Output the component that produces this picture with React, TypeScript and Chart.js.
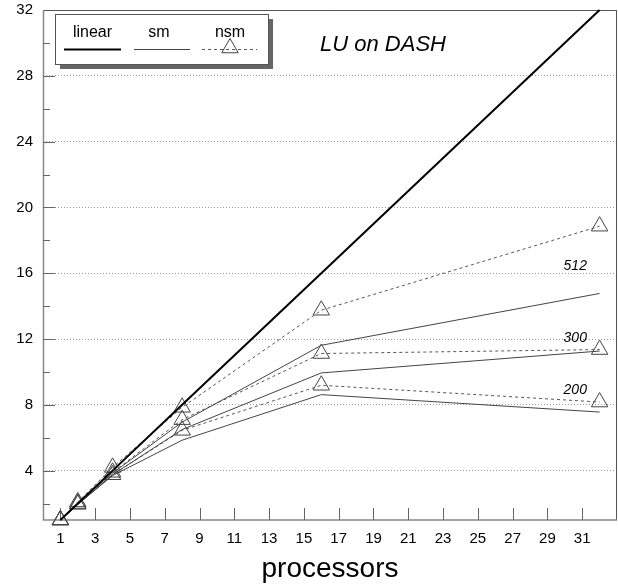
import React, { useEffect, useRef } from "react";
import { Chart, registerables } from "chart.js";

Chart.register(...registerables);

const processors = [1, 2, 4, 8, 16, 32];
const linearSpeedup = [1, 2, 4, 8, 16, 32];
const sm512 = [1, 2.0, 3.85, 6.95, 11.62, 14.77];
const nsm512 = [1, 2.1, 4.2, 7.85, 13.75, 18.86];
const sm300 = [1, 1.95, 3.75, 6.5, 9.94, 11.27];
const nsm300 = [1, 2.0, 3.9, 7.1, 11.12, 11.36];
const sm200 = [1, 1.95, 3.7, 5.85, 8.62, 7.56];
const nsm200 = [1, 1.95, 3.75, 6.45, 9.19, 8.17];

const xTickValues = [1, 3, 5, 7, 9, 11, 13, 15, 17, 19, 21, 23, 25, 27, 29, 31];
const yTickValues = [4, 8, 12, 16, 20, 24, 28, 32];
const yMinorTickValues = [2, 6, 10, 14, 18, 22, 26, 30];

const sizeLabels = ["512", "300", "200"];
const sizeLabelX = 30.6;
const sizeLabelY = [16.2, 11.82, 8.68];

const FONT = '"Liberation Sans", Arial, Helvetica, sans-serif';
const TRI_R = 9.5;

const pts = (ys: number[]) => processors.map((x, i) => ({ x, y: ys[i] }));

const smStyle = {
  borderColor: "#444",
  borderWidth: 1,
  pointRadius: 0,
  pointHoverRadius: 0,
  fill: false,
  clip: false as any,
};
const nsmStyle = {
  borderColor: "#555",
  borderWidth: 1,
  borderDash: [3, 3],
  pointStyle: "triangle" as any,
  pointRadius: TRI_R,
  pointBorderColor: "#444",
  pointBorderWidth: 1,
  pointBackgroundColor: "rgba(0,0,0,0)",
  fill: false,
  clip: false as any,
};

const decorPlugin = {
  id: "decor",
  beforeDatasetsDraw(chart: any) {
    const { ctx, chartArea, scales } = chart;
    const xs = scales.x;
    const ys = scales.y;
    ctx.save();
    ctx.strokeStyle = "#555";
    ctx.lineWidth = 1;
    ctx.beginPath();
    ctx.moveTo(chartArea.left, chartArea.top + 0.5);
    ctx.lineTo(chartArea.right - 0.5, chartArea.top + 0.5);
    ctx.lineTo(chartArea.right - 0.5, chartArea.bottom);
    ctx.stroke();
    ctx.strokeStyle = "#888";
    ctx.lineWidth = 1.5;
    ctx.beginPath();
    ctx.moveTo(chartArea.left + 0.5, chartArea.top);
    ctx.lineTo(chartArea.left + 0.5, chartArea.bottom);
    ctx.lineTo(chartArea.right, chartArea.bottom);
    ctx.stroke();
    ctx.lineWidth = 1;
    ctx.strokeStyle = "#666";
    ctx.beginPath();
    xTickValues.forEach((v) => {
      const px = Math.round(xs.getPixelForValue(v)) + 0.5;
      ctx.moveTo(px, chartArea.bottom);
      ctx.lineTo(px, chartArea.bottom - 12);
    });
    yTickValues.forEach((v) => {
      if (v >= 32) return;
      const py = Math.round(ys.getPixelForValue(v)) + 0.5;
      ctx.moveTo(chartArea.left, py);
      ctx.lineTo(chartArea.left + 12, py);
    });
    yMinorTickValues.forEach((v) => {
      const py = Math.round(ys.getPixelForValue(v)) + 0.5;
      ctx.moveTo(chartArea.left, py);
      ctx.lineTo(chartArea.left + 7, py);
    });
    ctx.stroke();
    ctx.restore();
  },
  afterDraw(chart: any) {
    const { ctx, chartArea, scales } = chart;
    const xs = scales.x;
    const ys = scales.y;
    ctx.save();
    ctx.fillStyle = "#000";
    ctx.font = `italic 22px ${FONT}`;
    ctx.textAlign = "left";
    ctx.textBaseline = "alphabetic";
    ctx.fillText("LU on DASH", 320, 51);
    ctx.font = `italic 14px ${FONT}`;
    ctx.textAlign = "center";
    sizeLabels.forEach((t, i) => {
      ctx.fillText(t, xs.getPixelForValue(sizeLabelX), ys.getPixelForValue(sizeLabelY[i]));
    });
    ctx.font = `28px ${FONT}`;
    ctx.textAlign = "center";
    ctx.fillText("processors", (chartArea.left + chartArea.right) / 2, 577);
    const lx = 55, ly = 14, lw = 213, lh = 50;
    ctx.fillStyle = "#666";
    ctx.fillRect(lx + 5, ly + 5, lw, lh);
    ctx.fillStyle = "#fff";
    ctx.fillRect(lx, ly, lw, lh);
    ctx.strokeStyle = "#555";
    ctx.lineWidth = 1;
    ctx.strokeRect(lx + 0.5, ly + 0.5, lw, lh);
    ctx.fillStyle = "#000";
    ctx.font = `16px ${FONT}`;
    ctx.textAlign = "center";
    ctx.fillText("linear", 92.5, 37);
    ctx.fillText("sm", 159, 37);
    ctx.fillText("nsm", 230, 37);
    ctx.strokeStyle = "#000";
    ctx.lineWidth = 2;
    ctx.beginPath();
    ctx.moveTo(64, 49.5);
    ctx.lineTo(121, 49.5);
    ctx.stroke();
    ctx.strokeStyle = "#444";
    ctx.lineWidth = 1;
    ctx.beginPath();
    ctx.moveTo(134, 49.5);
    ctx.lineTo(190, 49.5);
    ctx.stroke();
    ctx.strokeStyle = "#555";
    ctx.setLineDash([3, 3]);
    ctx.beginPath();
    ctx.moveTo(202, 49.5);
    ctx.lineTo(257, 49.5);
    ctx.stroke();
    ctx.setLineDash([]);
    const r = TRI_R;
    const cx = 230, cy = 48;
    ctx.strokeStyle = "#444";
    ctx.beginPath();
    ctx.moveTo(cx, cy - r);
    ctx.lineTo(cx + r * Math.cos(Math.PI / 6), cy + r / 2);
    ctx.lineTo(cx - r * Math.cos(Math.PI / 6), cy + r / 2);
    ctx.closePath();
    ctx.stroke();
    ctx.restore();
  },
};

export default function App() {
  const ref = useRef<HTMLCanvasElement | null>(null);
  useEffect(() => {
    if (!ref.current) return;
    const chart = new Chart(ref.current, {
      type: "line",
      data: {
        datasets: [
          {
            label: "linear",
            data: pts(linearSpeedup),
            borderColor: "#000",
            borderWidth: 2,
            pointRadius: 0,
            fill: false,
            clip: false as any,
          },
          { label: "sm 512", data: pts(sm512), ...smStyle },
          { label: "nsm 512", data: pts(nsm512), ...nsmStyle },
          { label: "sm 300", data: pts(sm300), ...smStyle },
          { label: "nsm 300", data: pts(nsm300), ...nsmStyle },
          { label: "sm 200", data: pts(sm200), ...smStyle },
          { label: "nsm 200", data: pts(nsm200), ...nsmStyle },
        ],
      },
      options: {
        responsive: false,
        animation: false,
        events: [],
        layout: { autoPadding: false, padding: { top: 10, right: 1, left: 0, bottom: 0 } },
        plugins: {
          legend: { display: false },
          tooltip: { enabled: false },
          title: { display: false },
        },
        scales: {
          x: {
            type: "linear",
            min: 0,
            max: 33,
            afterBuildTicks: (scale: any) => {
              scale.ticks = xTickValues.map((v) => ({ value: v }));
            },
            afterFit: (scale: any) => {
              scale.height = 67;
              scale.paddingLeft = 0;
              scale.paddingRight = 0;
            },
            grid: { display: false, drawTicks: false },
            border: { display: false },
            ticks: {
              autoSkip: false,
              maxRotation: 0,
              padding: 10,
              color: "#000",
              font: { family: FONT, size: 15 },
            },
          },
          y: {
            type: "linear",
            min: 1,
            max: 32,
            afterBuildTicks: (scale: any) => {
              scale.ticks = yTickValues.map((v) => ({ value: v }));
            },
            afterFit: (scale: any) => {
              scale.width = 43;
              scale.paddingTop = 0;
              scale.paddingBottom = 0;
            },
            grid: { display: true, drawTicks: false, color: "#999", lineWidth: 1 },
            border: { display: false, dash: [1, 2] },
            ticks: {
              autoSkip: false,
              padding: 10,
              color: "#000",
              font: { family: FONT, size: 15 },
            },
          },
        },
      },
      plugins: [decorPlugin],
    } as any);
    return () => chart.destroy();
  }, []);
  return (
    <div style={{ position: "absolute", left: 0, top: 0, width: 618, height: 587 }}>
      <canvas ref={ref} width={618} height={587} style={{ width: 618, height: 587 }} />
    </div>
  );
}
